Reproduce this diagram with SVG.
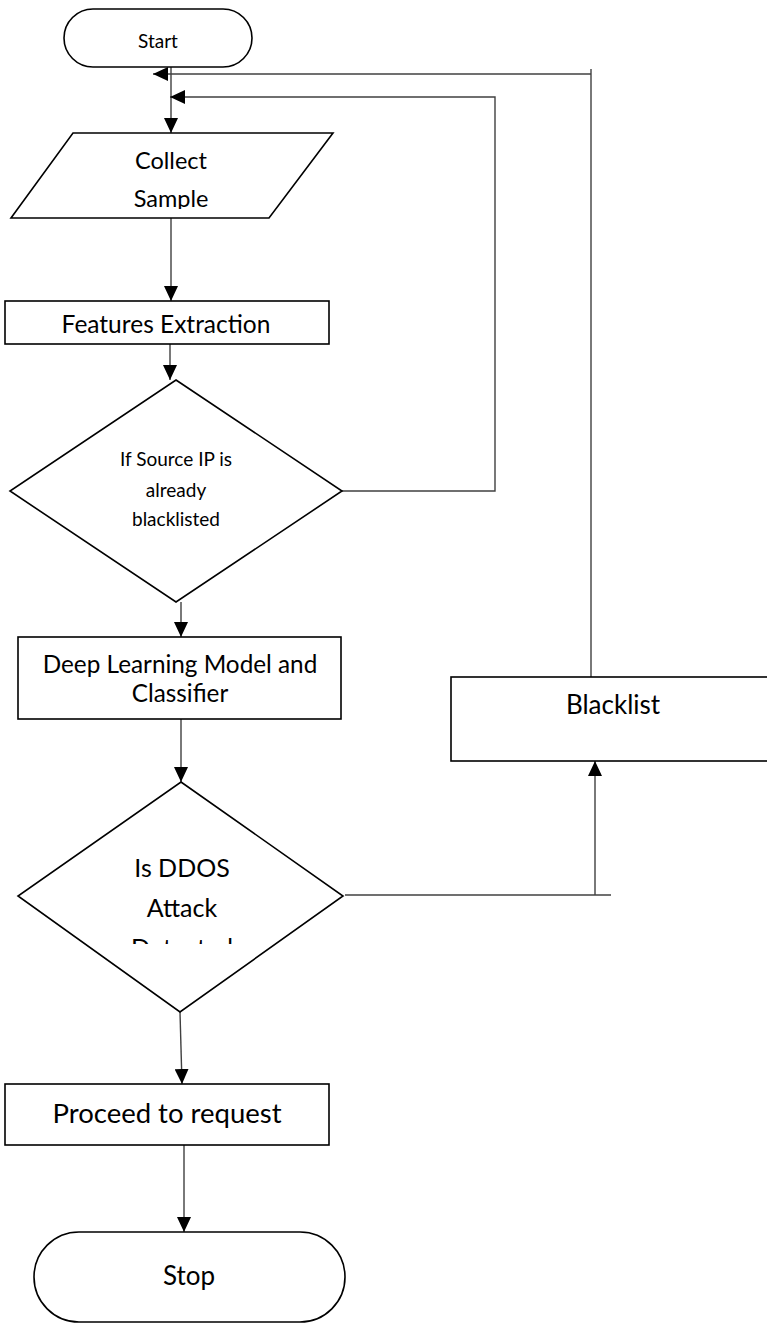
<svg xmlns="http://www.w3.org/2000/svg" width="767" height="1325" viewBox="0 0 767 1325">
<style>
.shape{fill:#fff;stroke:#000;stroke-width:1.6}
.conn{fill:none;stroke:#404040;stroke-width:1.4}
text{font-family:Lato,"Liberation Sans",sans-serif;fill:#000;text-anchor:middle}
</style>
<defs>
<marker id="ah" markerUnits="userSpaceOnUse" markerWidth="16" markerHeight="14" refX="15" refY="7" orient="auto">
<path d="M0,0 L15,7 L0,14 Z" fill="#000"/>
</marker>
<clipPath id="clipDet"><rect x="0" y="780" width="767" height="164"/></clipPath>
<clipPath id="clipSample"><rect x="0" y="130" width="767" height="79"/></clipPath>
</defs>
<g id="connectors">
<path class="conn" d="M171,67 V133" marker-end="url(#ah)"/>
<path class="conn" d="M171,218 V301" marker-end="url(#ah)"/>
<path class="conn" d="M170,344 V380" marker-end="url(#ah)"/>
<path class="conn" d="M181,602 V637" marker-end="url(#ah)"/>
<path class="conn" d="M181,719 V782" marker-end="url(#ah)"/>
<path class="conn" d="M180,1012 L182,1084" marker-end="url(#ah)"/>
<path class="conn" d="M184,1145 V1232" marker-end="url(#ah)"/>
<path class="conn" d="M342,491 H495 V97 H170" marker-end="url(#ah)"/>
<path class="conn" d="M345,895 H611"/>
<path class="conn" d="M595,895 V761" marker-end="url(#ah)"/>
<path class="conn" d="M591,677 V69"/>
<path class="conn" d="M591,74 H153" marker-end="url(#ah)"/>
</g>
<g id="start">
<rect class="shape" x="64" y="9" width="188" height="58" rx="29" ry="29"/>
<text x="158" y="48" font-size="19">Start</text>
</g>
<g id="collect">
<polygon class="shape" points="73,133 333,133 269,218 11,218"/>
<text x="171" y="169" font-size="23.5">Collect</text>
<text x="171" y="207" font-size="23.5" clip-path="url(#clipSample)">Sample</text>
</g>
<g id="features">
<rect class="shape" x="5" y="301" width="324" height="43"/>
<text x="166" y="333" font-size="24.5">Features Extraction</text>
</g>
<g id="decision1">
<polygon class="shape" points="176,380 342,491 176,602 10,491"/>
<text x="176" y="466" font-size="19">If Source IP is</text>
<text x="176" y="497" font-size="19">already</text>
<text x="176" y="526" font-size="19">blacklisted</text>
</g>
<g id="deeplearning">
<rect class="shape" x="18" y="637" width="323" height="82"/>
<text x="180" y="673" font-size="24.3">Deep Learning Model and</text>
<text x="180" y="702" font-size="24.3">Classifier</text>
</g>
<g id="decision2">
<polygon class="shape" points="181,782 343,896 180,1012 18,896"/>
<text x="182" y="877" font-size="25">Is DDOS</text>
<text x="182" y="917" font-size="25">Attack</text>
<text x="182" y="957" font-size="25" clip-path="url(#clipDet)">Detected</text>
</g>
<g id="blacklist">
<rect class="shape" x="451" y="677" width="317" height="84"/>
<text x="613" y="714" font-size="26">Blacklist</text>
</g>
<g id="proceed">
<rect class="shape" x="5" y="1084" width="324" height="61"/>
<text x="167" y="1123" font-size="27.5">Proceed to request</text>
</g>
<g id="stop">
<rect class="shape" x="34" y="1232" width="311" height="90" rx="45" ry="45"/>
<text x="189" y="1285" font-size="26">Stop</text>
</g>
</svg>
